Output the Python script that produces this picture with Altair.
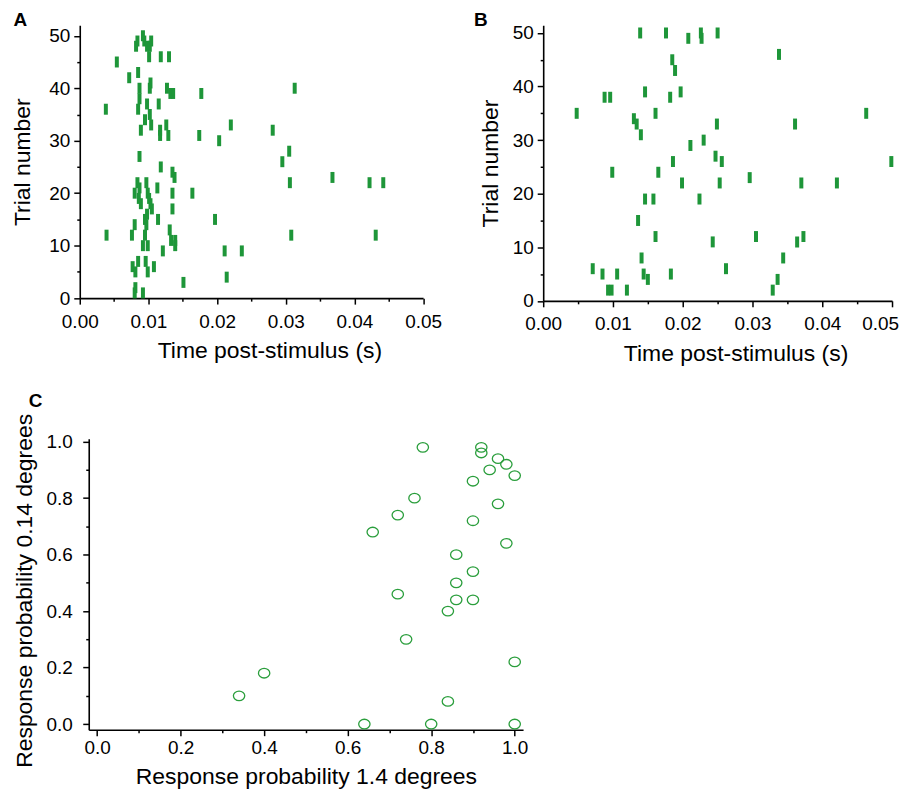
import altair as alt
import pandas as pd

GREEN = "#1e9639"
GREEN_C = "#2a9e3c"
FONT = "Liberation Sans"

# Panel A spikes: time post-stimulus (s), trial number
a_time = [0.0092, 0.0094, 0.0084, 0.0082, 0.0098, 0.0102, 0.0104, 0.0101, 0.0118, 0.0130,
          0.0054, 0.0085, 0.0072, 0.0087, 0.0102, 0.0103, 0.0127, 0.0132, 0.0136, 0.0177, 0.0313,
          0.0038, 0.0087, 0.0085, 0.0098, 0.0115, 0.0102, 0.0095, 0.0104, 0.0089, 0.0117, 0.0117,
          0.0126, 0.0129, 0.0174, 0.0203, 0.0220, 0.0281, 0.0305, 0.0295,
          0.0087, 0.0118, 0.0135, 0.0138, 0.0306, 0.0368, 0.0422, 0.0442,
          0.0084, 0.0087, 0.0097, 0.0080, 0.0086, 0.0089, 0.0099, 0.0101, 0.0103, 0.0105,
          0.0113, 0.0135, 0.0164, 0.0135,
          0.0114, 0.0197, 0.0095, 0.0098, 0.0097, 0.0080, 0.0076, 0.0039, 0.0095, 0.0131,
          0.0133, 0.0139, 0.0139, 0.0308, 0.0431,
          0.0092, 0.0099, 0.0121, 0.0211, 0.0236,
          0.0085, 0.0077, 0.0081, 0.0096, 0.0099, 0.0108, 0.0151, 0.0214, 0.0081, 0.0080, 0.0092]
a_trial = [50, 49, 49, 48, 48, 48, 49, 46, 46, 46,
           45, 43, 42, 40, 40, 41, 40, 39, 39, 39, 40,
           36, 38, 36, 37, 37, 35, 34, 33, 32, 32, 31,
           33, 31, 31, 30, 33, 32, 28, 26,
           27, 25, 24, 23, 22, 23, 22, 22,
           22, 21, 22, 20, 19, 18, 20, 19, 18, 17,
           21, 20, 20, 17,
           15, 15, 15, 16, 14, 14, 12, 12, 12, 13,
           11, 11, 10, 12, 12,
           10, 10, 9, 9, 9,
           7, 6, 5, 7, 5, 6, 3, 4, 2, 1, 1]

# Panel B spikes
b_time = [0.0139, 0.0176, 0.0208, 0.0226, 0.0227, 0.0250, 0.0185, 0.0189, 0.0338,
          0.0146, 0.0197, 0.0088, 0.0096, 0.0182,
          0.0048, 0.0161, 0.0463, 0.0130, 0.0134, 0.0140, 0.0249, 0.0361, 0.0230, 0.0211,
          0.0186, 0.0247, 0.0256, 0.0499, 0.0099, 0.0165, 0.0296, 0.0199, 0.0253, 0.0370, 0.0421,
          0.0146, 0.0158, 0.0224, 0.0136, 0.0161, 0.0305, 0.0373, 0.0243, 0.0364,
          0.0141, 0.0344, 0.0071, 0.0262, 0.0085, 0.0106, 0.0144, 0.0183, 0.0150, 0.0336,
          0.0093, 0.0098, 0.0120, 0.0329]
b_trial = [50, 50, 49, 50, 49, 50, 45, 43, 46,
           39, 39, 38, 38, 38,
           35, 35, 35, 34, 33, 31, 33, 33, 30, 29,
           26, 27, 26, 26, 24, 24, 23, 22, 22, 22, 22,
           19, 19, 19, 15, 12, 12, 12, 11, 11,
           8, 8, 6, 6, 5, 5, 5, 5, 4, 4,
           2, 2, 2, 2]

# Panel C: response probabilities
c_x = [0.78, 0.92, 0.92, 0.96, 0.98, 0.94, 1.00, 0.90, 0.76, 0.96, 0.72, 0.90, 0.66, 0.98,
       0.86, 0.90, 0.86, 0.72, 0.86, 0.90, 0.84, 0.74, 1.00, 0.40, 0.34, 0.84, 0.64, 0.80, 1.00]
c_y = [0.98, 0.98, 0.96, 0.94, 0.92, 0.90, 0.88, 0.86, 0.80, 0.78, 0.74, 0.72, 0.68, 0.64,
       0.60, 0.54, 0.50, 0.46, 0.44, 0.44, 0.40, 0.30, 0.22, 0.18, 0.10, 0.08, 0.00, 0.00, 0.00]

time_ticks = [round(i * 0.005, 3) for i in range(11)]
trial_ticks = list(range(0, 55, 5))
prob_ticks = [round(i * 0.1, 1) for i in range(11)]

AX = dict(domainColor="black", tickColor="black", labelColor="black", titleColor="black",
          domainWidth=1.6, tickWidth=1.5, grid=False, labelOverlap=False, labelFlush=False)


def label_layer(text, x, y):
    return alt.Chart(pd.DataFrame({"lab": [text]})).mark_text(
        font=FONT, fontSize=19, fontWeight="bold", align="left", baseline="top", color="black"
    ).encode(x=alt.value(x), y=alt.value(y), text="lab:N")


def raster(times, trials, w, h, ytop, text, lx, ly, last_shift, ytitle_pad):
    df = pd.DataFrame({"t": times, "trial": trials})
    spikes = alt.Chart(df).mark_tick(orient="vertical", size=11, thickness=4, color=GREEN, opacity=1).encode(
        x=alt.X("t:Q", title="Time post-stimulus (s)",
                scale=alt.Scale(domain=[0, 0.05], nice=False, zero=False),
                axis=alt.Axis(values=time_ticks,
                              labelExpr="round(datum.value*1000) % 10 === 0 ? format(datum.value, '.2f') : ''",
                              tickSize={"condition": {"test": "round(datum.value*1000) % 10 === 0", "value": 6}, "value": 3},
                              labelOffset={"condition": {"test": "datum.value > 0.049", "value": last_shift}, "value": 0},
                              labelPadding=8, titlePadding=9, titleX=w / 2 + 18, **AX)),
        y=alt.Y("trial:Q", title="Trial number",
                scale=alt.Scale(domain=[0, ytop], nice=False, zero=False),
                axis=alt.Axis(values=trial_ticks,
                              labelExpr="datum.value % 10 === 0 ? datum.value : ''",
                              tickSize={"condition": {"test": "datum.value % 10 === 0", "value": 6}, "value": 3},
                              labelPadding=4, titlePadding=ytitle_pad, **AX)),
    )
    return alt.layer(spikes, label_layer(text, lx, ly)).properties(width=w, height=h)


panel_a = raster(a_time, a_trial, 344.5, 273.8, 52, "A", -66.5, -14.2, 0, 14)
panel_b = raster(b_time, b_trial, 350, 276.5, 51.44, "B", -69.5, -14.2, -12, 10)

dfc = pd.DataFrame({"x": c_x, "y": c_y})
pts = alt.Chart(dfc).mark_point(
    shape="M-1,0A1,0.84,0,1,1,1,0A1,0.84,0,1,1,-1,0Z", filled=False, size=130, strokeWidth=1.3,
    color=GREEN_C, opacity=1
).encode(
    x=alt.X("x:Q", title="Response probability 1.4 degrees",
            scale=alt.Scale(domain=[-0.02, 1.02], nice=False, zero=False),
            axis=alt.Axis(values=prob_ticks,
                          labelExpr="round(datum.value*10) % 2 === 0 ? format(datum.value, '.1f') : ''",
                          tickSize={"condition": {"test": "round(datum.value*10) % 2 === 0", "value": 6}, "value": 3},
                          labelPadding=3, titlePadding=8, **AX)),
    y=alt.Y("y:Q", title="Response probability 0.14 degrees",
            scale=alt.Scale(domain=[-0.02, 1.01], nice=False, zero=False),
            axis=alt.Axis(values=prob_ticks,
                          labelExpr="round(datum.value*10) % 2 === 0 ? format(datum.value, '.1f') : ''",
                          tickSize={"condition": {"test": "round(datum.value*10) % 2 === 0", "value": 6}, "value": 3},
                          labelPadding=10.5, titlePadding=9.5, titleY=152, **AX)),
)
panel_c = alt.layer(pts, label_layer("C", -60.3, -47.3)).properties(width=435.8, height=291.8)

spacer = alt.Chart(pd.DataFrame({"a": [0]})).mark_point(size=0, opacity=0).encode(
    x=alt.value(0), y=alt.value(0)
).properties(width=1, height=1)

chart = alt.vconcat(
    alt.hconcat(panel_a, panel_b, spacing=32),
    alt.hconcat(spacer, panel_c, spacing=-68),
    spacing=25,
).properties(
    padding={"left": 3, "top": 1, "right": 0, "bottom": 0},
).configure_view(stroke=None).configure_axis(
    labelFont=FONT, titleFont=FONT, labelFontSize=19, titleFontSize=23, titleFontWeight="normal",
)

chart.save("out.html", embed_options={"renderer": "svg", "actions": False})
